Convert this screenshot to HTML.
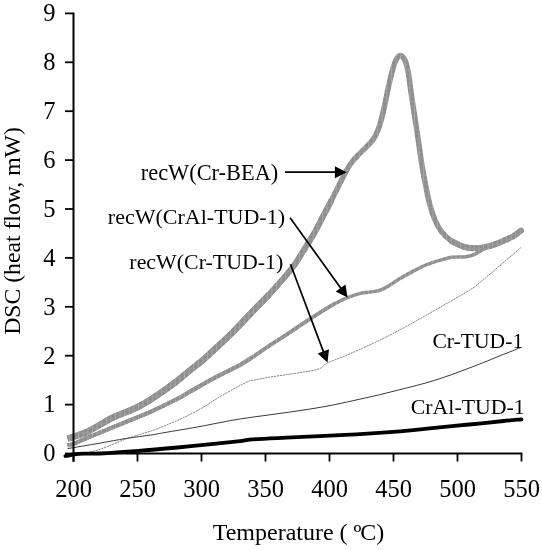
<!DOCTYPE html>
<html lang="en"><head><meta charset="utf-8"><title>DSC heat flow vs temperature</title>
<style>
html,body{margin:0;padding:0;background:#fff;}
body{width:542px;height:550px;overflow:hidden;font-family:"Liberation Serif",serif;}
svg{display:block;will-change:transform;}
</style></head><body>
<svg width="542" height="550" viewBox="0 0 542 550">
<rect width="542" height="550" fill="#fff"/>
<defs><pattern id="hatch" width="4.6" height="4.6" patternUnits="userSpaceOnUse"><rect width="4.6" height="4.6" fill="#8d8d8d"/><path d="M0.5 0V4.6" stroke="#a9a9a9" stroke-width="1"/><path d="M0 0.5H4.6" stroke="#9c9c9c" stroke-width="0.8"/></pattern></defs>
<path d="M67.6 438.7C68.6 438.4 70.2 438.1 73.5 436.9C76.8 435.7 83.0 433.7 87.3 431.7C91.6 429.7 95.3 427.4 99.6 425.0C103.9 422.6 108.5 419.6 112.9 417.5C117.3 415.4 121.5 414.1 125.8 412.3C130.1 410.5 134.4 408.7 138.7 406.5C143.0 404.3 147.4 401.6 151.7 398.9C156.0 396.2 160.3 393.2 164.6 390.2C168.9 387.1 173.2 384.0 177.5 380.6C181.8 377.2 186.1 373.5 190.4 370.0C194.7 366.5 198.9 363.5 203.3 359.7C207.7 355.9 211.9 351.8 216.7 347.3C221.5 342.9 226.2 338.8 232.0 333.0C237.8 327.2 245.6 318.7 251.8 312.3C258.0 305.9 264.9 298.9 269.1 294.5C273.3 290.1 274.4 288.7 277.0 285.8C279.6 282.9 282.0 280.3 284.8 276.9C287.6 273.5 290.7 270.1 294.0 265.5C297.3 260.9 301.1 254.6 304.5 249.1C307.9 243.6 311.5 238.0 314.5 232.7C317.5 227.4 319.8 222.6 322.6 217.2C325.5 211.8 327.4 208.1 331.6 200.0C335.8 191.9 343.5 175.7 347.7 168.4C351.9 161.1 353.8 159.9 356.9 156.4C360.0 152.9 363.3 150.1 366.1 147.2C368.9 144.3 371.5 141.8 373.5 138.9C375.5 136.0 376.7 133.2 378.1 129.7C379.5 126.2 380.6 122.2 381.8 117.7C383.0 113.2 384.2 107.7 385.2 102.9C386.2 98.1 386.8 94.3 388.0 89.0C389.2 83.7 390.9 76.0 392.2 71.3C393.5 66.5 394.4 63.1 395.8 60.5C397.2 57.9 398.8 55.6 400.4 55.6C401.9 55.6 403.8 57.7 405.1 60.7C406.5 63.8 407.6 69.0 408.5 73.9C409.4 78.8 409.6 82.7 410.7 90.0C411.8 97.3 413.5 108.8 414.9 117.8C416.2 126.8 417.6 135.8 418.8 143.7C420.0 151.6 420.8 158.4 422.0 165.5C423.2 172.6 424.5 179.8 425.8 186.2C427.1 192.6 428.2 198.6 429.7 204.2C431.2 209.8 433.0 215.2 434.9 219.7C436.8 224.2 438.5 227.8 441.3 231.4C444.1 235.0 447.8 238.6 451.7 241.2C455.6 243.8 460.3 245.8 464.6 247.0C468.9 248.2 473.2 248.5 477.5 248.3C481.8 248.1 486.1 247.1 490.4 245.9C494.7 244.7 499.4 242.6 503.3 240.9C507.2 239.2 510.8 237.7 513.7 236.0C516.6 234.3 519.7 231.5 520.9 230.6" fill="none" stroke="url(#hatch)" stroke-width="5.5" stroke-linejoin="round" stroke-linecap="butt"/>
<path d="M67.6 438.7C68.6 438.4 70.2 438.1 73.5 436.9C76.8 435.7 83.0 433.7 87.3 431.7C91.6 429.7 95.3 427.4 99.6 425.0C103.9 422.6 108.5 419.6 112.9 417.5C117.3 415.4 121.5 414.1 125.8 412.3C130.1 410.5 134.4 408.7 138.7 406.5C143.0 404.3 147.4 401.6 151.7 398.9C156.0 396.2 160.3 393.2 164.6 390.2C168.9 387.1 173.2 384.0 177.5 380.6C181.8 377.2 186.1 373.5 190.4 370.0C194.7 366.5 198.9 363.5 203.3 359.7C207.7 355.9 211.9 351.8 216.7 347.3C221.5 342.9 226.2 338.8 232.0 333.0C237.8 327.2 245.6 318.7 251.8 312.3C258.0 305.9 264.9 298.9 269.1 294.5C273.3 290.1 274.4 288.7 277.0 285.8C279.6 282.9 282.0 280.3 284.8 276.9C287.6 273.5 290.7 270.1 294.0 265.5C297.3 260.9 301.1 254.6 304.5 249.1C307.9 243.6 311.5 238.0 314.5 232.7C317.5 227.4 319.8 222.6 322.6 217.2C325.5 211.8 330.1 202.9 331.6 200.0" fill="none" stroke="url(#hatch)" stroke-width="6.0" stroke-linejoin="round"/>
<path d="M67.6 438.7C68.6 438.4 70.2 438.1 73.5 436.9C76.8 435.7 83.0 433.7 87.3 431.7C91.6 429.7 95.3 427.4 99.6 425.0C103.9 422.6 108.5 419.6 112.9 417.5C117.3 415.4 121.5 414.1 125.8 412.3C130.1 410.5 134.4 408.7 138.7 406.5C143.0 404.3 147.4 401.6 151.7 398.9C156.0 396.2 160.3 393.2 164.6 390.2C168.9 387.1 173.2 384.0 177.5 380.6C181.8 377.2 186.1 373.5 190.4 370.0C194.7 366.5 198.9 363.5 203.3 359.7C207.7 355.9 211.9 351.8 216.7 347.3C221.5 342.9 226.2 338.8 232.0 333.0C237.8 327.2 245.6 318.7 251.8 312.3C258.0 305.9 266.2 297.5 269.1 294.5" fill="none" stroke="url(#hatch)" stroke-width="6.5" stroke-linejoin="round"/>
<path d="M451.7 241.2C453.9 242.2 460.3 245.8 464.6 247.0C468.9 248.2 473.2 248.5 477.5 248.3C481.8 248.1 486.1 247.1 490.4 245.9C494.7 244.7 499.4 242.6 503.3 240.9C507.2 239.2 510.8 237.7 513.7 236.0C516.6 234.3 519.7 231.5 520.9 230.6" fill="none" stroke="url(#hatch)" stroke-width="6.0" stroke-linejoin="round" stroke-linecap="round"/>
<path d="M67.6 445.3C68.6 445.1 70.2 445.1 73.5 443.9C76.8 442.6 81.8 440.1 87.3 437.8C92.8 435.5 102.0 431.8 106.7 429.9C111.4 427.9 112.5 427.4 115.7 426.1C118.9 424.8 122.0 423.6 125.8 422.0C129.6 420.4 134.4 418.6 138.7 416.8C143.0 415.0 147.3 413.3 151.7 411.3C156.1 409.3 160.3 407.3 165.0 405.0C169.7 402.7 175.8 399.7 180.0 397.5C184.2 395.3 185.4 394.2 190.0 391.6C194.6 389.0 201.9 384.8 207.7 381.6C213.5 378.4 219.6 375.3 225.0 372.5C230.4 369.7 235.5 367.5 240.0 365.0C244.5 362.5 247.0 360.8 251.8 357.6C256.7 354.4 263.9 349.2 269.1 345.8C274.3 342.4 278.4 339.9 282.9 337.0C287.3 334.1 291.5 331.2 295.8 328.3C300.1 325.4 304.4 322.6 308.7 319.8C313.0 317.0 317.4 314.2 321.7 311.5C326.0 308.8 330.3 306.1 334.6 303.8C338.9 301.5 343.2 299.3 347.5 297.6C351.8 295.9 356.1 294.4 360.4 293.4C364.7 292.4 369.9 292.2 373.3 291.6C376.8 291.0 378.5 290.8 381.1 289.8C383.7 288.8 385.7 287.6 388.8 285.7C391.9 283.8 396.0 281.0 400.0 278.6C404.0 276.2 408.6 273.7 412.9 271.4C417.2 269.1 421.5 266.8 425.8 265.0C430.1 263.2 434.4 261.9 438.7 260.6C443.0 259.3 447.2 257.8 451.7 257.2C456.2 256.6 462.0 257.3 465.9 256.8C469.8 256.3 472.4 255.2 474.9 254.2C477.4 253.2 478.4 252.0 481.0 250.6C483.6 249.2 486.7 247.5 490.4 245.9C494.1 244.3 499.4 242.6 503.3 240.9C507.2 239.2 510.8 237.7 513.7 236.0C516.6 234.3 519.7 231.5 520.9 230.6" fill="none" stroke="url(#hatch)" stroke-width="3.5" stroke-linejoin="round"/>
<path d="M67.6 445.3C68.6 445.1 70.2 445.1 73.5 443.9C76.8 442.6 81.8 440.1 87.3 437.8C92.8 435.5 102.0 431.8 106.7 429.9C111.4 427.9 112.5 427.4 115.7 426.1C118.9 424.8 122.0 423.6 125.8 422.0C129.6 420.4 134.4 418.6 138.7 416.8C143.0 415.0 147.3 413.3 151.7 411.3C156.1 409.3 160.3 407.3 165.0 405.0C169.7 402.7 175.8 399.7 180.0 397.5C184.2 395.3 185.4 394.2 190.0 391.6C194.6 389.0 201.9 384.8 207.7 381.6C213.5 378.4 219.6 375.3 225.0 372.5C230.4 369.7 235.5 367.5 240.0 365.0C244.5 362.5 247.0 360.8 251.8 357.6C256.7 354.4 263.9 349.2 269.1 345.8C274.3 342.4 278.4 339.9 282.9 337.0C287.3 334.1 291.5 331.2 295.8 328.3C300.1 325.4 304.4 322.6 308.7 319.8C313.0 317.0 317.4 314.2 321.7 311.5C326.0 308.8 332.5 305.1 334.6 303.8" fill="none" stroke="url(#hatch)" stroke-width="3.8" stroke-linejoin="round"/>
<path d="M67.6 445.3C68.6 445.1 70.2 445.1 73.5 443.9C76.8 442.6 81.8 440.1 87.3 437.8C92.8 435.5 102.0 431.8 106.7 429.9C111.4 427.9 112.5 427.4 115.7 426.1C118.9 424.8 122.0 423.6 125.8 422.0C129.6 420.4 134.4 418.6 138.7 416.8C143.0 415.0 147.3 413.3 151.7 411.3C156.1 409.3 160.3 407.3 165.0 405.0C169.7 402.7 175.8 399.7 180.0 397.5C184.2 395.3 185.4 394.2 190.0 391.6C194.6 389.0 201.9 384.8 207.7 381.6C213.5 378.4 219.6 375.3 225.0 372.5C230.4 369.7 235.5 367.5 240.0 365.0C244.5 362.5 249.8 358.8 251.8 357.6" fill="none" stroke="url(#hatch)" stroke-width="4.1" stroke-linejoin="round"/>
<path d="M67.6 457.5C68.6 457.2 68.1 457.4 73.5 456.0C78.9 454.6 91.3 452.1 100.0 449.3C108.7 446.5 117.2 442.1 125.8 439.0C134.4 435.9 145.2 433.0 151.7 430.8C158.2 428.6 159.6 427.9 165.0 425.7C170.4 423.4 178.0 420.4 184.4 417.3C190.8 414.2 198.3 410.1 203.7 407.0C209.1 403.9 211.5 401.7 216.7 398.6C221.9 395.5 229.7 391.1 235.0 388.2C240.3 385.3 245.0 382.7 248.4 381.3C251.8 379.9 251.9 380.6 255.3 379.9C258.8 379.2 263.9 378.1 269.1 377.2C274.3 376.3 280.6 375.6 286.4 374.7C292.2 373.8 298.2 373.0 303.7 372.0C309.2 371.0 315.3 370.3 319.3 368.8C323.3 367.3 322.8 365.3 327.5 363.0C332.2 360.7 339.9 358.2 347.5 354.9C355.1 351.6 366.0 346.7 373.3 343.3C380.6 339.9 385.3 337.5 391.4 334.3C397.5 331.1 402.8 328.4 410.0 324.4C417.2 320.4 424.8 316.1 434.6 310.4C444.5 304.7 461.0 295.5 469.1 290.4C477.2 285.3 474.4 287.1 483.0 280.0C491.6 272.9 514.6 253.0 520.9 247.6" fill="none" stroke="#808080" stroke-width="0.95" stroke-linejoin="round" stroke-dasharray="2.2 0.7"/>
<path d="M67.6 448.6C73.0 447.7 90.3 444.8 100.0 443.1C109.7 441.4 117.2 439.9 125.8 438.5C134.4 437.1 145.2 435.9 151.7 434.9C158.2 433.9 157.4 433.8 165.0 432.5C172.6 431.2 185.6 429.1 197.3 427.0C209.0 424.9 223.0 421.8 235.0 419.8C247.0 417.8 259.0 416.3 269.1 414.9C279.2 413.5 287.0 412.5 295.8 411.2C304.6 409.9 313.1 408.7 321.7 407.1C330.3 405.6 338.9 403.7 347.5 401.9C356.1 400.1 364.7 398.2 373.3 396.2C381.9 394.2 389.0 392.4 399.2 389.8C409.4 387.2 423.0 384.0 434.6 380.4C446.2 376.8 457.6 372.5 469.1 368.1C480.6 363.8 495.1 357.8 503.7 354.3C512.4 350.9 518.1 348.5 521.0 347.4" fill="none" stroke="#222" stroke-width="0.9" stroke-linejoin="round"/>
<path d="M65.4 456.0C67.6 455.6 72.9 454.2 78.7 453.8C84.5 453.4 90.0 454.0 100.0 453.5C110.0 453.0 125.8 451.9 138.7 450.9C151.6 449.9 164.6 448.7 177.5 447.5C190.4 446.3 205.8 444.8 216.2 443.7C226.6 442.6 234.1 441.8 240.0 441.1C245.9 440.4 244.1 440.0 251.8 439.4C259.5 438.8 271.7 438.3 286.4 437.6C301.1 436.9 321.1 436.2 340.0 435.2C358.9 434.2 384.2 432.6 400.0 431.4C415.8 430.2 423.1 429.0 434.6 427.9C446.1 426.8 457.6 425.6 469.1 424.5C480.6 423.4 495.0 421.9 503.7 421.0C512.4 420.1 518.5 419.6 521.5 419.3" fill="none" stroke="#000" stroke-width="3.8" stroke-linejoin="round" stroke-linecap="round"/>
<g stroke="#000" stroke-width="1.8" fill="none">
<path d="M73.5 12.5V453.5H522.3" stroke-width="2"/>
<path d="M73.5 453.5V461.8" stroke-width="2"/>
<path d="M65 453.5H73.5"/>
<path d="M65 404.6H73.5"/>
<path d="M65 355.7H73.5"/>
<path d="M65 306.8H73.5"/>
<path d="M65 257.9H73.5"/>
<path d="M65 209.0H73.5"/>
<path d="M65 160.1H73.5"/>
<path d="M65 111.2H73.5"/>
<path d="M65 62.3H73.5"/>
<path d="M65 13.4H73.5"/>
<path d="M73.5 453.5V461.5"/>
<path d="M137.5 453.5V461.5"/>
<path d="M201.5 453.5V461.5"/>
<path d="M265.5 453.5V461.5"/>
<path d="M329.5 453.5V461.5"/>
<path d="M393.5 453.5V461.5"/>
<path d="M457.5 453.5V461.5"/>
<path d="M521.5 453.5V461.5"/>
</g>
<g font-family="'Liberation Serif',serif" font-size="24.5" fill="#000">
<text x="55.6" y="461.3" text-anchor="end">0</text>
<text x="55.6" y="412.4" text-anchor="end">1</text>
<text x="55.6" y="363.5" text-anchor="end">2</text>
<text x="55.6" y="314.6" text-anchor="end">3</text>
<text x="55.6" y="265.7" text-anchor="end">4</text>
<text x="55.6" y="216.8" text-anchor="end">5</text>
<text x="55.6" y="167.9" text-anchor="end">6</text>
<text x="55.6" y="119.0" text-anchor="end">7</text>
<text x="55.6" y="70.1" text-anchor="end">8</text>
<text x="55.6" y="21.2" text-anchor="end">9</text>
<text x="73.5" y="496.9" text-anchor="middle">200</text>
<text x="137.5" y="496.9" text-anchor="middle">250</text>
<text x="201.5" y="496.9" text-anchor="middle">300</text>
<text x="265.5" y="496.9" text-anchor="middle">350</text>
<text x="329.5" y="496.9" text-anchor="middle">400</text>
<text x="393.5" y="496.9" text-anchor="middle">450</text>
<text x="457.5" y="496.9" text-anchor="middle">500</text>
<text x="521.5" y="496.9" text-anchor="middle">550</text>
<text x="298.5" y="540" text-anchor="middle" font-size="24">Temperature ( <tspan dy="2.2" font-size="25.5" letter-spacing="-1.2">º</tspan><tspan dy="-2.2">C)</tspan></text>
<text transform="translate(19.5,231) rotate(-90)" text-anchor="middle" font-size="23.7">DSC (heat flow, mW)</text>
</g>
<g font-family="'Liberation Serif',serif" font-size="22.4" fill="#000">
<text x="278.3" y="180.3" text-anchor="end">recW(Cr-BEA)</text>
<text x="285" y="223.8" text-anchor="end" font-size="22">recW(CrAl-TUD-1)</text>
<text x="283.3" y="268.9" text-anchor="end" font-size="21.9">recW(Cr-TUD-1)</text>
<text x="523.2" y="347.9" text-anchor="end" font-size="21.6">Cr-TUD-1</text>
<text x="524.6" y="413.7" text-anchor="end" font-size="21.8">CrAl-TUD-1</text>
</g>
<path d="M285.0 172.2L335.9 172.2" stroke="#000" stroke-width="1.7" fill="none"/><path d="M346.7 172.2L334.9 178.2L334.9 166.2Z" fill="#000"/>
<path d="M290.1 217.7L341.2 288.8" stroke="#000" stroke-width="1.7" fill="none"/><path d="M347.5 297.6L335.7 291.5L345.5 284.5Z" fill="#000"/>
<path d="M290.5 264.2L323.7 352.4" stroke="#000" stroke-width="1.7" fill="none"/><path d="M327.5 362.5L317.7 353.6L329.0 349.3Z" fill="#000"/>
</svg>
</body></html>
